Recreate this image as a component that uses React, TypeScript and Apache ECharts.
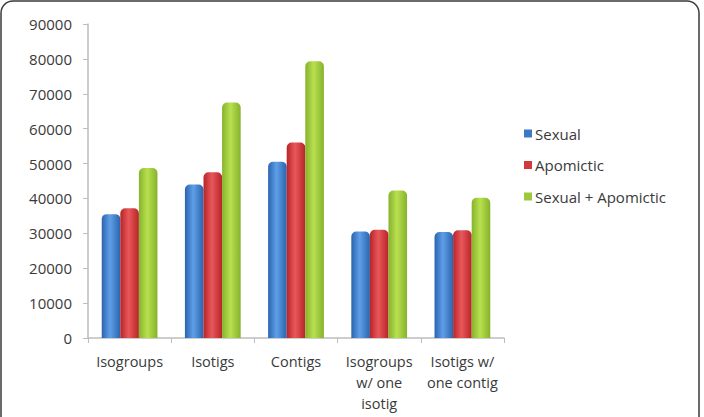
import React, { useEffect, useRef } from "react";
import * as echarts from "echarts";

const categories = ["Isogroups", "Isotigs", "Contigs", "Isogroups\nw/ one\nisotig", "Isotigs w/\none contig"];
const seriesNames = ["Sexual", "Apomictic", "Sexual + Apomictic"];
const sexual = [35500, 44000, 50500, 30500, 30400];
const apomictic = [37200, 47500, 56000, 31000, 30900];
const combined = [48700, 67500, 79300, 42300, 40200];
const yTicks = { min: 0, max: 90000, interval: 10000 };

const palettes = [
  { edge: "#2a64b0", mid: "#5f9fe6", legend: "#3a78c8" },
  { edge: "#b82428", mid: "#e8585a", legend: "#d03a3c" },
  { edge: "#86b22c", mid: "#b8e050", legend: "#9cc83c" },
];

function grad(p: { edge: string; mid: string }) {
  return new echarts.graphic.LinearGradient(0, 0, 1, 0, [
    { offset: 0, color: p.edge },
    { offset: 0.45, color: p.mid },
    { offset: 1, color: p.edge },
  ]);
}

export default function App() {
  const ref = useRef<HTMLDivElement>(null);
  useEffect(() => {
    if (!ref.current) return;
    const chart = echarts.init(ref.current, null, { renderer: "svg" });
    const data = [sexual, apomictic, combined];
    const font = "'Open Sans', sans-serif";
    chart.setOption({
      animation: false,
      backgroundColor: "#ffffff",
      textStyle: { fontFamily: font },
      grid: { left: 88, right: 200, top: 24, bottom: 79 },
      legend: {
        orient: "vertical",
        left: 519,
        top: 121,
        itemWidth: 8,
        itemHeight: 8,
        itemGap: 16.5,
        icon: "rect",
        textStyle: { fontSize: 15, color: "#3a3a3a", fontFamily: font, padding: [0, 0, 0, -2] },
        data: seriesNames.map((n, i) => ({ name: n, itemStyle: { color: palettes[i].legend } })),
      },
      xAxis: {
        type: "category",
        data: categories,
        axisLine: { lineStyle: { color: "#bdbdbd", width: 1.5 } },
        axisTick: { show: true, length: 5, lineStyle: { color: "#bdbdbd" } },
        axisLabel: { fontSize: 14.5, color: "#3a3a3a", lineHeight: 21, margin: 13, interval: 0 },
      },
      yAxis: {
        type: "value",
        min: yTicks.min,
        max: yTicks.max,
        interval: yTicks.interval,
        splitLine: { show: false },
        axisLine: { show: true, lineStyle: { color: "#bdbdbd", width: 1.5 } },
        axisTick: { show: true, length: 5, lineStyle: { color: "#bdbdbd" } },
        axisLabel: { fontSize: 15, color: "#3a3a3a", margin: 16, formatter: (v: number) => String(v) },
      },
      series: data.map((d, i) => ({
        name: seriesNames[i],
        type: "bar",
        data: d,
        barGap: "0%",
        barCategoryGap: "33%",
        itemStyle: { color: grad(palettes[i]), borderRadius: [5, 5, 0, 0] },
      })),
      graphic: [
        {
          type: "rect",
          shape: { x: 1, y: 1, width: 698, height: 440, r: 12 },
          style: { fill: "none", stroke: "#3a3a3a", lineWidth: 1.5 },
          silent: true,
          z: 100,
        },
      ],
    });
    return () => chart.dispose();
  }, []);
  return <div ref={ref} style={{ position: "fixed", left: 0, top: 0, width: 704, height: 417 }} />;
}
